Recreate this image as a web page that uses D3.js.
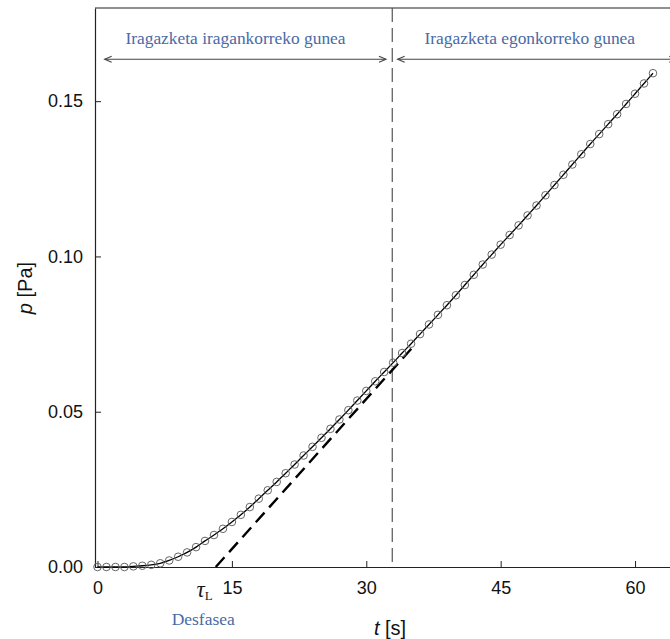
<!DOCTYPE html>
<html>
<head>
<meta charset="utf-8">
<title>Iragazketa</title>
<script src="https://cdn.jsdelivr.net/npm/d3@7"></script>
<style>
  body { margin: 0; background: #fff; }
  svg text { font-family: "Liberation Sans", Arial, sans-serif; }
  .note { font-family: "Liberation Serif", "Times New Roman", serif !important; fill: #4a6aa6; }
</style>
</head>
<body>
<svg id="chart"></svg>
<script>
// measured points (time in s, pressure in Pa)
const time = [0,1,2,3,4,5,6,7,8,9,10,11,12,13,14,15,16,17,18,19,20,21,22,23,24,25,26,27,28,29,30,
  31,32,33,34,35,36,37,38,39,40,41,42,43,44,45,46,47,48,49,50,51,52,53,54,55,56,57,58,59,60,61,62]
const pressure = [0,0,0,0,0.0002,0.0004,0.0007,0.0012,0.0021,0.0033,0.0047,0.0064,0.0084,0.0103,
  0.0123,0.0145,0.0168,0.0193,0.0220,0.0247,0.0274,0.0302,0.0330,0.0359,0.0387,0.0416,0.0445,
  0.0475,0.0505,0.0536,0.0567,0.0598,0.0628,0.0658,0.0689,0.0719,0.0750,0.0781,0.0812,0.0843,
  0.0875,0.0908,0.0941,0.0974,0.1006,0.1038,0.1069,0.1100,0.1132,0.1164,0.1197,0.1230,0.1263,
  0.1296,0.1329,0.1362,0.1394,0.1426,0.1458,0.1491,0.1524,0.1557,0.1590]

// steady-state tangent (dashed)
const tangentT = [13.2, 35.5]
const tangentP = [0, 0.0718]
const tauL = 13.2
const regionSplit = 32.9

const xTicks = [0, 15, 30, 45, 60]
const yTicks = [0, 0.05, 0.10, 0.15]

const width = 670, height = 639
const margin = { left: 95, right: 0, top: 8, bottom: 72 }

const svg = d3.select("#chart").attr("width", width).attr("height", height)

const x = d3.scaleLinear().domain([-0.28, 63.9]).range([margin.left, width - margin.right])
const y = d3.scaleLinear().domain([0, 0.18]).range([height - margin.bottom, margin.top])

const data = time.map((t, i) => ({ t: t, p: pressure[i] }))

// top frame line
svg.append("line")
  .attr("x1", x.range()[0]).attr("x2", x.range()[1])
  .attr("y1", y(0.18)).attr("y2", y(0.18))
  .attr("stroke", "#222").attr("stroke-width", 1.2)

const xAxis = svg.append("g")
  .attr("transform", `translate(0,${y(0)})`)
  .call(d3.axisBottom(x).tickValues(xTicks).tickFormat(d3.format("d")).tickSizeInner(-6).tickSizeOuter(0).tickPadding(14))
const yAxis = svg.append("g")
  .attr("transform", `translate(${margin.left},0)`)
  .call(d3.axisLeft(y).tickValues(yTicks).tickFormat(d3.format(".2f")).tickSizeInner(-6).tickSizeOuter(0).tickPadding(12))

;[xAxis, yAxis].forEach(a => {
  a.select(".domain").attr("stroke", "#222").attr("stroke-width", 1.2)
  a.selectAll(".tick line").attr("stroke", "#222")
  a.selectAll(".tick text").attr("fill", "#111").style("font-size", "18px")
})

// region divider
svg.append("line")
  .attr("x1", x(regionSplit)).attr("x2", x(regionSplit))
  .attr("y1", y(0.18)).attr("y2", y(0))
  .attr("stroke", "#555").attr("stroke-width", 1.2)
  .attr("stroke-dasharray", "14,6")

// tangent line
svg.append("line")
  .attr("x1", x(tangentT[0])).attr("y1", y(tangentP[0]))
  .attr("x2", x(tangentT[1])).attr("y2", y(tangentP[1]))
  .attr("stroke", "#000").attr("stroke-width", 2.4)
  .attr("stroke-dasharray", "13,7")

// curve
svg.append("path")
  .datum(data)
  .attr("fill", "none")
  .attr("stroke", "#000")
  .attr("stroke-width", 1.3)
  .attr("d", d3.line().x(d => x(d.t)).y(d => y(d.p)).curve(d3.curveMonotoneX))

svg.append("g")
  .selectAll("circle")
  .data(data)
  .enter()
  .append("circle")
  .attr("cx", d => x(d.t))
  .attr("cy", d => y(d.p))
  .attr("r", 3.8)
  .attr("fill", "none")
  .attr("stroke", "#666")
  .attr("stroke-width", 1)

// region arrows
const arrowP = 0.1635
function arrow(t0, t1) {
  const yy = y(arrowP)
  const g = svg.append("g").attr("stroke", "#444").attr("stroke-width", 1.1).attr("fill", "none")
  g.append("line").attr("x1", x(t0)).attr("x2", x(t1)).attr("y1", yy).attr("y2", yy)
  g.append("path").attr("d", `M${x(t0) + 7},${yy - 3}L${x(t0)},${yy}L${x(t0) + 7},${yy + 3}`)
  g.append("path").attr("d", `M${x(t1) - 7},${yy - 3}L${x(t1)},${yy}L${x(t1) - 7},${yy + 3}`)
}
arrow(0.8, 32.2)
arrow(33.5, 64.6)

svg.append("text").attr("class", "note")
  .attr("x", x(15.4)).attr("y", y(0.1683))
  .attr("text-anchor", "middle").style("font-size", "17.4px")
  .text("Iragazketa iragankorreko gunea")
svg.append("text").attr("class", "note")
  .attr("x", x(48.25)).attr("y", y(0.1683))
  .attr("text-anchor", "middle").style("font-size", "17.4px")
  .text("Iragazketa egonkorreko gunea")

// tau_L label
const tau = svg.append("text")
  .attr("x", x(tauL) - 3).attr("y", y(0) + 30)
  .attr("text-anchor", "end")
  .style("font-family", "'Liberation Serif', serif")
  .attr("fill", "#1a1a1a")
tau.append("tspan").style("font-style", "italic").style("font-size", "23px").text("τ")
tau.append("tspan").attr("dy", 3).style("font-size", "13px").text("L")

svg.append("text").attr("class", "note")
  .attr("x", x(11.8)).attr("y", y(0) + 58)
  .attr("text-anchor", "middle").style("font-size", "17.5px")
  .text("Desfasea")

// axis titles
const xl = svg.append("text")
  .attr("x", 390).attr("y", 635)
  .attr("text-anchor", "middle").style("font-size", "20px").attr("fill", "#111")
xl.append("tspan").style("font-style", "italic").text("t")
xl.append("tspan").text(" [s]")

const yl = svg.append("text")
  .attr("transform", "translate(32,288) rotate(-90)")
  .attr("text-anchor", "middle").style("font-size", "20px").attr("fill", "#111")
yl.append("tspan").style("font-style", "italic").text("p")
yl.append("tspan").text(" [Pa]")
</script>
</body>
</html>
